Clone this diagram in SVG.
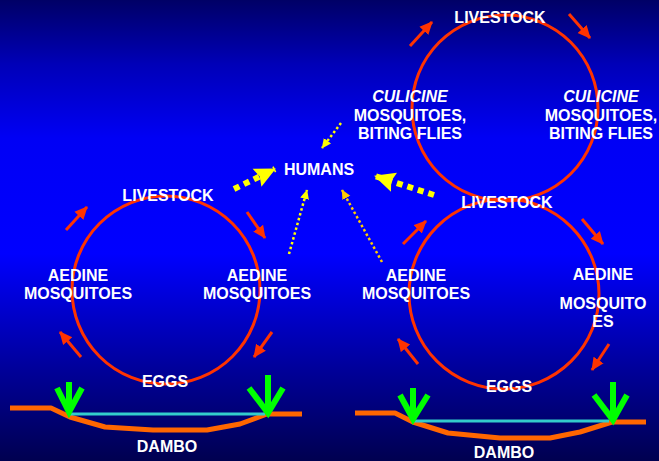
<svg xmlns="http://www.w3.org/2000/svg" width="659" height="461" viewBox="0 0 659 461">
<defs>
<linearGradient id="bg" x1="0" y1="0" x2="0" y2="1">
<stop offset="0" stop-color="#000066"/>
<stop offset="0.14" stop-color="#0000b8"/>
<stop offset="0.3" stop-color="#0000f5"/>
<stop offset="0.55" stop-color="#0000ff"/>
<stop offset="0.8" stop-color="#00009a"/>
<stop offset="1" stop-color="#000050"/>
</linearGradient>
<marker id="redhead" markerUnits="userSpaceOnUse" markerWidth="14" markerHeight="14" viewBox="0 0 14 14" refX="12" refY="7" orient="auto">
<path d="M0,1 L13,7 L0,13 Z" fill="#ff3300"/>
</marker>
<marker id="bighead" markerUnits="userSpaceOnUse" markerWidth="22" markerHeight="22" viewBox="0 0 22 22" refX="20" refY="11" orient="auto">
<path d="M0,1 L21,11 L0,21 L3,11 Z" fill="#ffff00"/>
</marker>
<marker id="smallhead" markerUnits="userSpaceOnUse" markerWidth="10" markerHeight="10" viewBox="0 0 10 10" refX="9" refY="5" orient="auto">
<path d="M0,0.5 L9.5,5 L0,9.5 Z" fill="#ffff00"/>
</marker>
<marker id="smallheadO" markerUnits="userSpaceOnUse" markerWidth="10" markerHeight="10" viewBox="0 0 10 10" refX="9" refY="5" orient="auto">
<path d="M0,0.5 L9.5,5 L0,9.5 Z" fill="#ffcc00"/>
</marker>
</defs>
<style>
.t{font-family:"Liberation Sans",Arial,sans-serif;font-weight:bold;font-size:16px;fill:#ffffff;text-anchor:middle}
.it{font-style:italic}
.cyc{fill:none;stroke:#ff3300;stroke-width:3}
.ra{stroke:#ff3300;stroke-width:3;fill:none;marker-end:url(#redhead)}
.big{stroke:#ffff00;stroke-width:6;stroke-dasharray:6 5;fill:none;marker-end:url(#bighead)}
.sm{stroke:#ffff00;stroke-width:2.5;stroke-dasharray:2.5 2.5;fill:none;marker-end:url(#smallhead)}
.smo{stroke:#ffcc00;stroke-width:2.5;stroke-dasharray:2.5 2.5;fill:none;marker-end:url(#smallheadO)}
.ground{fill:none;stroke:#ff6600;stroke-width:5;stroke-linejoin:bevel}
.water{stroke:#33cccc;stroke-width:3}
.rain{fill:none;stroke:#00ff00;stroke-width:6;stroke-linecap:butt}
</style>
<rect x="0" y="0" width="659" height="461" fill="url(#bg)"/>

<g id="cycles">
<circle id="cycle-left" class="cyc" cx="166" cy="290" r="94"/>
<circle id="cycle-right" class="cyc" cx="504" cy="294" r="95"/>
<circle id="cycle-top" class="cyc" cx="505" cy="108" r="93"/>
</g>

<g id="dambo-left">
<polyline class="ground" points="10,408 51,408 70,417 105,427 153,430 207,430 240,424 267,414 302,414"/>
<line class="water" x1="70" y1="414" x2="265" y2="414"/>
<path class="rain" d="M69,382 L69,412 M57,388 L69,412 L82,388"/>
<path class="rain" d="M268,375 L268,413 M249,388 L268,413 L283,388"/>
</g>

<g id="dambo-right">
<polyline class="ground" points="355,413 395,413 413,422 448,433 500,438 550,438 580,432 612,422 646,422"/>
<line class="water" x1="413" y1="421" x2="609" y2="421"/>
<path class="rain" d="M413,388 L413,419 M400,395 L413,419 L428,395"/>
<path class="rain" d="M613,382 L613,420 M594,395 L613,420 L627,395"/>
</g>

<g id="connectors">
<line class="ra" x1="66" y1="230" x2="87" y2="207"/>
<line class="ra" x1="247" y1="212" x2="265" y2="238"/>
<line class="ra" x1="272" y1="332" x2="254" y2="357"/>
<line class="ra" x1="81" y1="357" x2="60" y2="332"/>
<line class="ra" x1="403" y1="244" x2="426" y2="221"/>
<line class="ra" x1="582" y1="219" x2="603" y2="244"/>
<line class="ra" x1="609" y1="344" x2="592" y2="370"/>
<line class="ra" x1="418" y1="364" x2="398" y2="339"/>
<line class="ra" x1="410" y1="46" x2="432" y2="22"/>
<line class="ra" x1="569" y1="14" x2="590" y2="38"/>
<line class="big" x1="234" y1="189" x2="275" y2="169"/>
<line class="big" x1="434" y1="195" x2="375" y2="176"/>
<line class="sm" x1="341" y1="123" x2="322" y2="148"/>
<line class="sm" x1="289" y1="254" x2="307" y2="190"/>
<line class="smo" x1="382" y1="262" x2="342" y2="190"/>
</g>

<g id="humans"><text class="t" x="319" y="175">HUMANS</text></g>
<g id="livestock-top"><text class="t" x="500" y="23">LIVESTOCK</text></g>
<g id="culicine-left"><text class="t" x="410" y="102"><tspan class="it" x="410">CULICINE</tspan><tspan x="410" y="121">MOSQUITOES,</tspan><tspan x="410" y="139">BITING FLIES</tspan></text></g>
<g id="culicine-right"><text class="t" x="601" y="102"><tspan class="it" x="601">CULICINE</tspan><tspan x="601" y="121">MOSQUITOES,</tspan><tspan x="601" y="139">BITING FLIES</tspan></text></g>
<g id="livestock-left"><text class="t" x="168" y="201">LIVESTOCK</text></g>
<g id="livestock-right"><text class="t" x="507" y="208">LIVESTOCK</text></g>
<g id="aedine-ll"><text class="t" x="78" y="281">AEDINE<tspan x="78" y="299">MOSQUITOES</tspan></text></g>
<g id="aedine-lr"><text class="t" x="257" y="281">AEDINE<tspan x="257" y="299">MOSQUITOES</tspan></text></g>
<g id="aedine-rl"><text class="t" x="416" y="281">AEDINE<tspan x="416" y="299">MOSQUITOES</tspan></text></g>
<g id="aedine-rr"><text class="t" x="603" y="280">AEDINE<tspan x="603" y="309">MOSQUITO</tspan><tspan x="603" y="327">ES</tspan></text></g>
<g id="eggs-left"><text class="t" x="165" y="387">EGGS</text></g>
<g id="eggs-right"><text class="t" x="509" y="392">EGGS</text></g>
<g id="dambo-left-label"><text class="t" x="167" y="452">DAMBO</text></g>
<g id="dambo-right-label"><text class="t" x="504" y="458">DAMBO</text></g>
</svg>
